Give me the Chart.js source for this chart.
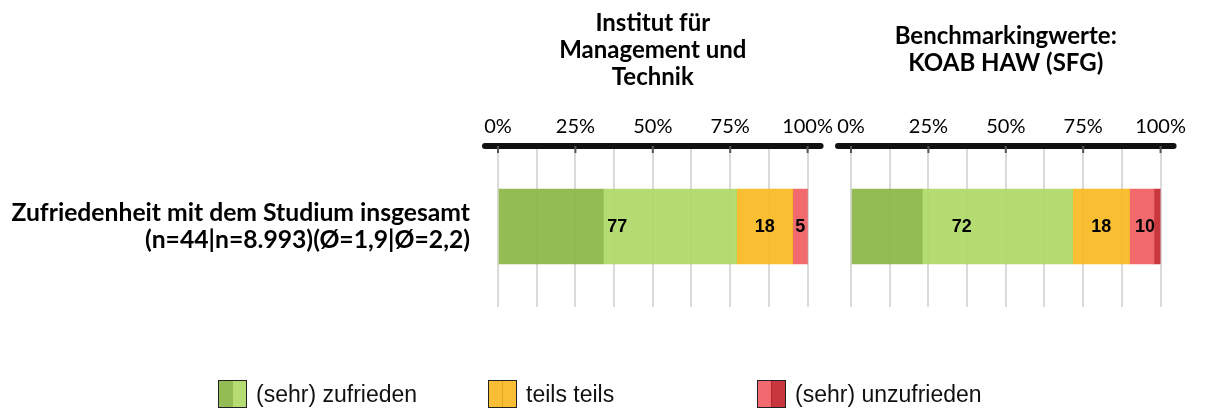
<!DOCTYPE html>
<html>
<head>
<meta charset="utf-8">
<script src="https://cdn.jsdelivr.net/npm/chart.js@4.4.1/dist/chart.umd.min.js"></script>
<style>
    body { margin: 0; background: #fff; }
    #wrap { position: relative; width: 1205px; height: 411px; overflow: hidden; }
    .panel { position: absolute; top: 0; height: 411px; }
    .item { position: absolute; top: 379px; height: 30px; display: flex; align-items: center;
            font-family: 'Liberation Sans', Arial, sans-serif; font-size: 23px; color: #111; }
    .box { width: 27px; height: 26px; border: 1.5px solid #222; display: flex; margin-right: 9px; }
    .box span { flex: 1; }
</style>
</head>
<body>
<div id="wrap">
    <div class="panel" style="left:0;width:840px"><canvas id="chartInst"></canvas></div>
    <div class="panel" style="left:821px;width:372px"><canvas id="chartBench"></canvas></div>

    <div class="item" style="left:218px">
        <div class="box"><span style="background:#93bc55"></span><span style="background:#b5dc73"></span></div>(sehr) zufrieden
    </div>
    <div class="item" style="left:488px">
        <div class="box"><span style="background:#f9be33;border-right:1px solid #e5a520"></span><span style="background:#f9be33"></span></div>teils teils
    </div>
    <div class="item" style="left:757px">
        <div class="box"><span style="background:#f16a6f;border-right:1px solid #b8242b"></span><span style="background:#c8373e"></span></div>(sehr) unzufrieden
    </div>
</div>

<script>
// Data
const categories = [['Zufriedenheit mit dem Studium insgesamt', '(n=44|n=8.993)(Ø=1,9|Ø=2,2)']];
const seriesNames = ['sehr zufrieden', 'zufrieden', 'teils teils', 'unzufrieden', 'sehr unzufrieden'];
const instValues = [34, 43.1, 18.1, 4.8, 0];
const benchValues = [23, 48.6, 18.4, 7.9, 2.1];
const instTitle = ['Institut für', 'Management und', 'Technik'];
const benchTitle = ['Benchmarkingwerte:', 'KOAB HAW (SFG)'];
const tickStep = 12.5;      // grid every 12.5 %, labels every 25 %
const labelStep = 25;
const labelGroups = [[0, 1], [2], [3, 4]];   // summed labels: zufrieden / teils / unzufrieden

// Colors (slightly transparent so the grid shows through like the original)
const seriesColors = [
    'rgba(139, 182, 69, 0.92)',
    'rgba(175, 217, 103, 0.92)',
    'rgba(248, 184, 33, 0.92)',
    'rgba(240, 93, 98, 0.92)',
    'rgba(195, 38, 45, 0.92)'
];

Chart.defaults.font.family = 'Lato';
Chart.defaults.color = '#000';

// thick top axis line with round caps + short stubs at labelled ticks
const axisLinePlugin = {
    id: 'axisLine',
    afterDraw(chart) {
        const ctx = chart.ctx;
        const x = chart.scales.x;
        const y = chart.chartArea.top;
        ctx.save();
        ctx.lineCap = 'round';
        ctx.lineWidth = 6;
        ctx.strokeStyle = '#111';
        ctx.beginPath();
        ctx.moveTo(x.left - 13, y);
        ctx.lineTo(x.right + 13, y);
        ctx.stroke();
        ctx.lineCap = 'butt';
        ctx.lineWidth = 2;
        ctx.strokeStyle = '#555';
        x.ticks.forEach(t => {
            if (t.value % labelStep === 0) {
                const px = x.getPixelForValue(t.value);
                ctx.beginPath();
                ctx.moveTo(px, y);
                ctx.lineTo(px, y + 7);
                ctx.stroke();
            }
        });
        ctx.restore();
    }
};

// panel title centred over the chart area
const panelTitlePlugin = {
    id: 'panelTitle',
    afterDraw(chart, args, opts) {
        const ctx = chart.ctx;
        const cx = (chart.chartArea.left + chart.chartArea.right) / 2;
        const lines = opts.lines || [];
        ctx.save();
        ctx.font = 'bold 24px Lato';
        ctx.fillStyle = '#000';
        ctx.textAlign = 'center';
        ctx.textBaseline = 'middle';
        lines.forEach((l, i) => {
            ctx.fillText(l, cx, 50 + (i - (lines.length - 1) / 2) * 27);
        });
        ctx.restore();
    }
};

// summed value labels centred in each group of segments
const groupLabelPlugin = {
    id: 'groupLabels',
    afterDatasetsDraw(chart) {
        const ctx = chart.ctx;
        const x = chart.scales.x;
        const vals = chart.data.datasets.map(d => d.data[0]);
        const barY = chart.getDatasetMeta(0).data[0].y;
        ctx.save();
        ctx.font = 'bold 18px "Liberation Sans"';
        ctx.fillStyle = '#000';
        ctx.textAlign = 'center';
        ctx.textBaseline = 'middle';
        labelGroups.forEach(g => {
            const start = vals.slice(0, g[0]).reduce((a, b) => a + b, 0);
            const sum = g.reduce((a, i) => a + vals[i], 0);
            if (sum <= 0) return;
            const px = x.getPixelForValue(start + sum / 2);
            ctx.fillText(Math.round(sum), px, barY + 1);
        });
        ctx.restore();
    }
};

function makeChart(id, values, title, showCategory) {
    const ctx = document.getElementById(id).getContext('2d');
    return new Chart(ctx, {
        type: 'bar',
        data: {
            labels: categories,
            datasets: seriesNames.map((name, i) => ({
                label: name,
                data: [values[i]],
                backgroundColor: seriesColors[i],
                borderWidth: 0,
                barThickness: 75
            }))
        },
        options: {
            indexAxis: 'y',
            responsive: true,
            maintainAspectRatio: false,
            animation: false,
            layout: {
                padding: { top: 106, bottom: 104, left: showCategory ? 0 : 30, right: 30 }
            },
            plugins: {
                legend: { display: false },
                tooltip: { enabled: false },
                panelTitle: { lines: title }
            },
            scales: {
                x: {
                    position: 'top',
                    stacked: true,
                    min: 0,
                    max: 100,
                    afterFit(scale) { scale.height = 40; },
                    grid: { color: '#dadada', lineWidth: 2, drawTicks: false },
                    border: { display: false },
                    ticks: {
                        stepSize: tickStep,
                        autoSkip: false,
                        maxRotation: 0,
                        padding: 7,
                        font: { size: 20 },
                        color: '#000',
                        callback: v => (v % labelStep === 0 ? v + '%' : '')
                    }
                },
                y: {
                    display: showCategory,
                    stacked: true,
                    afterFit(scale) { if (showCategory) scale.width = 498; },
                    grid: { display: false, drawTicks: false },
                    border: { display: false },
                    ticks: {
                        padding: 28,
                        color: '#000',
                        font: { size: 24.7, weight: 'bold', lineHeight: 1.1 }
                    }
                }
            }
        },
        plugins: [axisLinePlugin, panelTitlePlugin, groupLabelPlugin]
    });
}

makeChart('chartInst', instValues, instTitle, true);
makeChart('chartBench', benchValues, benchTitle, false);
</script>
</body>
</html>
